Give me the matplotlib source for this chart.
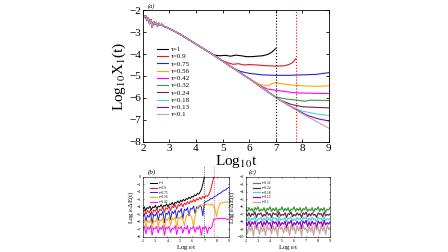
import numpy as np
import matplotlib
matplotlib.use("Agg")
import matplotlib.pyplot as plt

plt.rcParams['font.family'] = ['Liberation Serif', 'DejaVu Serif']
plt.rcParams['mathtext.fontset'] = 'stix'

# ---------------- data: panel (a) ----------------
tau_labels = ["τ=1", "τ=0.9", "τ=0.75", "τ=0.56", "τ=0.42",
              "τ=0.32", "τ=0.24", "τ=0.18", "τ=0.13", "τ=0.1"]
colors = ["#000000", "#e8141c", "#2323e6", "#ffa500", "#ff00ff",
          "#3a9a3a", "#7a1f4f", "#40e0d0", "#9400d3", "#c8a2a0"]

common_x = [2.00, 2.05, 2.10, 2.15, 2.20, 2.25, 2.30, 2.35, 2.40, 2.45, 2.50,
            2.55, 2.60, 2.65, 2.70, 2.80, 2.90, 3.00, 3.20, 3.40, 3.60, 3.80,
            4.00, 4.20, 4.40, 4.60]
common_y = [-2.20, -2.32, -2.25, -2.48, -2.35, -2.62, -2.45, -2.78, -2.52, -2.64,
            -2.56, -2.73, -2.60, -2.70, -2.64, -2.75, -2.79, -2.85, -2.97, -3.10,
            -3.25, -3.40, -3.55, -3.70, -3.85, -4.00]

tail_x = [
    [4.7, 4.9, 5.1, 5.3, 5.5, 5.7, 5.9, 6.1, 6.3, 6.5, 6.7, 6.85, 7.0],
    [4.8, 5.0, 5.2, 5.4, 5.6, 5.8, 6.0, 6.3, 6.6, 7.0, 7.3, 7.5, 7.65, 7.75],
    [5.0, 5.4, 5.7, 6.0, 6.5, 7.0, 7.5, 8.0, 8.5, 9.0],
    [5.0, 5.5, 6.0, 6.4, 6.7, 6.85, 7.0, 7.2, 7.5, 8.0, 8.5, 9.0],
    [5.0, 5.5, 6.0, 6.3, 6.7, 7.0, 7.3, 7.75, 8.2, 9.0],
    [5.0, 5.5, 6.0, 6.5, 6.8, 7.0, 7.4, 7.8, 8.1, 8.3, 9.0],
    [5.0, 5.5, 6.0, 6.5, 7.0, 7.2, 7.6, 8.0, 8.5, 9.0],
    [5.0, 5.5, 6.0, 6.5, 7.0, 7.5, 8.0, 8.5, 9.0],
    [5.0, 5.5, 6.0, 6.5, 7.0, 7.5, 7.8, 8.2, 8.6, 9.0],
    [5.0, 5.5, 6.0, 6.5, 7.0, 7.5, 8.0, 8.5, 9.0],
]
tail_y = [
    [-4.05, -4.08, -4.06, -4.10, -4.05, -4.08, -4.12, -4.12, -4.10, -4.08, -4.02, -3.92, -3.75],
    [-4.15, -4.30, -4.40, -4.47, -4.44, -4.50, -4.48, -4.50, -4.53, -4.55, -4.54, -4.48, -4.38, -4.22],
    [-4.32, -4.65, -4.80, -4.88, -4.95, -4.97, -4.97, -4.95, -4.93, -4.85],
    [-4.32, -4.72, -5.12, -5.38, -5.45, -5.35, -5.30, -5.35, -5.40, -5.45, -5.47, -5.45],
    [-4.32, -4.72, -5.12, -5.38, -5.60, -5.65, -5.70, -5.77, -5.78, -5.80],
    [-4.32, -4.72, -5.12, -5.55, -5.80, -5.95, -6.05, -6.10, -6.15, -6.10, -6.12],
    [-4.32, -4.72, -5.12, -5.55, -5.97, -6.12, -6.30, -6.40, -6.43, -6.45],
    [-4.32, -4.72, -5.12, -5.55, -5.97, -6.35, -6.60, -6.72, -6.80],
    [-4.32, -4.72, -5.12, -5.55, -5.97, -6.35, -6.55, -6.80, -6.95, -7.05],
    [-4.32, -4.72, -5.12, -5.55, -5.97, -6.35, -6.72, -7.05, -7.38],
]

# ---------------- data: panel (b) ----------------
b_labels = tau_labels[:5]
b_colors = colors[:5]
b_xend = [7.0, 7.75, 9.0, 9.0, 9.0]
b_black = [-4.3, -4.0, -4.5, -4.1, -4.2, -3.9, -4.4, -4.0, -4.1, -3.8, -4.3, -3.9, -4.0, -3.7,
           -4.1, -3.8, -3.9, -3.6, -4.0, -3.6, -3.7, -3.4, -3.8, -3.4, -3.5, -3.2, -3.5, -3.1,
           -3.3, -3.0, -3.2, -2.9, -3.0, -2.7, -2.9, -2.6, -2.7, -2.4, -2.5, -2.2, -2.3, -2.0,
           -1.6, -0.9, 0.0]
b_red = [-4.7, -4.4, -5.0, -4.5, -4.8, -4.3, -5.1, -4.4, -4.6, -4.2, -4.8, -4.3, -4.5, -4.0,
         -4.7, -4.1, -4.3, -3.9, -4.5, -3.9, -4.1, -3.7, -4.3, -3.7, -3.9, -3.5, -4.0, -3.5,
         -3.7, -3.3, -3.6, -3.2, -3.4, -3.0, -3.3, -2.9, -3.1, -2.7, -3.0, -2.6, -2.8, -2.5,
         -2.6, -2.3, -1.8, -1.0, -0.1]
b_blue = [-5.3, -4.9, -5.9, -5.1, -5.4, -4.8, -6.2, -5.0, -5.2, -4.7, -5.8, -4.9, -5.1, -4.6,
          -6.1, -4.8, -5.0, -4.5, -5.7, -4.6, -4.9, -4.4, -5.5, -4.5, -4.7, -4.2, -5.6, -4.3,
          -4.5, -4.1, -5.2, -4.2, -4.3, -3.9, -4.9, -4.0, -4.2, -3.8, -4.0, -5.2, -3.4, -3.3,
          -3.2, -3.1, -2.9, -2.9, -2.7, -2.6, -2.5, -2.3, -2.2, -2.1, -1.9, -1.8, -1.7, -1.5,
          -1.4]
b_orange = [-6.0, -5.7, -6.8, -5.8, -6.1, -5.6, -7.1, -5.8, -6.0, -5.5, -6.7, -5.7, -5.9, -5.5,
            -7.0, -5.6, -5.8, -5.4, -6.5, -5.5, -5.7, -5.3, -6.9, -5.4, -5.6, -5.2, -5.8, -6.5,
            -5.4, -5.0, -4.9, -5.1, -5.6, -6.6, -5.2, -4.4, -3.9, -3.8, -3.7, -3.8, -3.6, -3.7,
            -3.6, -3.7, -3.8, -3.6, -3.9, -4.4, -5.3, -4.2, -3.6, -3.5, -3.4, -3.4, -3.3, -3.4,
            -3.3]
b_magenta = [-6.9, -6.6, -7.6, -6.7, -7.0, -6.5, -7.8, -6.8, -6.9, -6.6, -7.5, -6.7, -7.0, -6.5,
             -7.8, -6.7, -6.9, -6.6, -7.4, -6.8, -7.0, -6.5, -7.7, -6.7, -6.9, -6.6, -7.5, -6.7,
             -7.0, -6.5, -7.6, -6.8, -6.9, -6.6, -7.4, -6.7, -7.0, -6.5, -7.8, -6.7, -6.9, -6.6,
             -7.5, -6.7, -6.9, -6.6, -5.7, -5.6, -5.6, -5.5, -5.6, -5.5, -5.6, -5.5, -5.6, -5.7,
             -5.6]

# ---------------- data: panel (c) ----------------
c_labels = tau_labels[5:]
c_colors = colors[5:]
c_green = [-6.3, -6.6, -6.1, -6.5, -6.2, -6.7, -6.1, -6.4, -6.0, -6.6, -6.3, -6.5, -6.1, -6.7,
           -6.2, -6.4, -6.0, -6.6, -6.2, -6.5, -6.1, -6.8, -6.3, -6.4, -6.0, -6.6, -6.2, -6.5,
           -6.1, -6.7, -6.3, -6.4, -6.0, -6.6, -6.2, -6.5, -6.1, -6.7, -6.2, -6.4, -6.0, -6.6,
           -6.3, -6.5, -6.1, -6.7, -6.2, -6.4, -6.0, -6.6, -6.2, -6.5, -6.1, -6.7, -6.3, -6.4,
           -6.1]
c_maroon = [-6.9, -7.2, -6.8, -7.3, -6.9, -7.1, -6.7, -7.4, -6.9, -7.0, -6.8, -7.3, -7.0, -7.2,
            -6.7, -7.1, -6.9, -7.4, -6.8, -7.0, -6.9, -7.3, -6.7, -7.2, -7.0, -7.1, -6.8, -7.4,
            -6.9, -7.0, -6.7, -7.3, -7.0, -7.2, -6.8, -7.1, -6.9, -7.4, -6.8, -7.0, -6.7, -7.3,
            -6.9, -7.2, -6.8, -7.1, -7.0, -7.4, -6.8, -7.0, -6.9, -7.3, -6.7, -7.2, -7.0, -7.1,
            -6.9]
c_cyan = [-7.5, -7.8, -7.4, -7.9, -7.5, -7.7, -7.3, -8.0, -7.6, -7.6, -7.4, -7.9, -7.5, -7.8,
          -7.3, -7.7, -7.5, -8.0, -7.4, -7.6, -7.5, -7.9, -7.3, -7.8, -7.6, -7.7, -7.4, -8.0,
          -7.5, -7.6, -7.3, -7.9, -7.6, -7.8, -7.4, -7.7, -7.5, -8.0, -7.4, -7.6, -7.3, -7.9,
          -7.5, -7.8, -7.4, -7.7, -7.6, -8.0, -7.4, -7.6, -7.5, -7.9, -7.3, -7.8, -7.6, -7.7,
          -7.5]
c_purple = [-8.1, -8.5, -7.9, -8.6, -8.0, -8.3, -7.9, -8.8, -8.1, -8.2, -7.9, -8.6, -8.0, -8.4,
            -7.8, -8.3, -8.1, -8.9, -7.9, -8.2, -8.0, -8.6, -7.9, -8.5, -8.1, -8.3, -7.9, -8.8,
            -8.0, -8.2, -7.8, -8.6, -8.1, -8.4, -7.9, -8.3, -8.0, -8.9, -7.9, -8.2, -7.8, -8.6,
            -8.0, -8.5, -7.9, -8.3, -8.1, -8.8, -7.9, -8.2, -8.0, -8.6, -7.8, -8.4, -8.1, -8.3,
            -8.0]
c_tan = [-8.7, -9.6, -8.5, -9.2, -8.6, -9.9, -8.4, -9.0, -8.7, -9.7, -8.5, -9.3, -8.6, -9.8,
         -8.4, -9.1, -8.8, -9.6, -8.5, -9.2, -8.6, -9.9, -8.4, -9.0, -8.7, -9.5, -8.5, -9.3,
         -8.6, -9.8, -8.4, -9.1, -8.7, -9.6, -8.5, -9.2, -8.6, -9.9, -8.4, -9.0, -8.8, -9.5,
         -8.5, -9.3, -8.6, -9.8, -8.4, -9.1, -8.7, -9.6, -8.5, -9.2, -8.6, -9.7, -8.4, -9.0,
         -8.7]

# ---------------- figure ----------------
fig = plt.figure(figsize=(4.48, 2.52), dpi=100)

def style_ax(ax, size, width=0.6, length=2.0):
    ax.tick_params(direction='in', top=True, right=True, labelsize=size,
                   width=width, length=length, pad=1.5)
    for s in ax.spines.values():
        s.set_linewidth(width)

# panel (a)
axa = fig.add_axes([0.319, 0.437, 0.415, 0.523])
for i in range(10):
    xs = common_x + tail_x[i]
    ys = common_y + tail_y[i]
    axa.plot(xs, ys, color=colors[i], lw=0.8, label=tau_labels[i])
axa.axvline(7.0, color='black', ls=':', lw=0.8)
axa.axvline(7.75, color='red', ls=':', lw=0.8)
axa.set_xlim(2, 9)
axa.set_ylim(-8, -2)
axa.set_xticks(range(2, 10))
axa.set_yticks(range(-8, -1))
style_ax(axa, 8)
axa.set_xlabel('Log$_{10}$t', fontsize=11, labelpad=0)
axa.set_ylabel('Log$_{10}$X$_1$(t)', fontsize=11, labelpad=1)
axa.legend(loc='upper left', bbox_to_anchor=(0.07, 0.73), frameon=False,
           fontsize=5, handlelength=1.6, labelspacing=0.2, borderpad=0.1,
           handletextpad=0.5, borderaxespad=0.0)
fig.text(0.33, 0.975, '(a)', fontsize=4.5, style='italic', va='center')

# panel (b)
axb = fig.add_axes([0.319, 0.060, 0.192, 0.238])
b_series = [b_black, b_red, b_blue, b_orange, b_magenta]
for i, ys in enumerate(b_series):
    xs = np.linspace(2, b_xend[i], len(ys))
    axb.plot(xs, ys, color=b_colors[i], lw=0.7, label=b_labels[i])
axb.axvline(7.0, ymax=1.18, color='black', ls=':', lw=0.5, clip_on=False)
axb.axvline(7.75, ymax=1.18, color='red', ls=':', lw=0.5, clip_on=False)
axb.set_xlim(2, 9)
axb.set_ylim(-8, 0)
axb.set_xticks(range(2, 10))
axb.set_yticks(range(-8, 1))
style_ax(axb, 3, width=0.4, length=1.0)
axb.set_xlabel('Log$_{10}$t', fontsize=5, labelpad=0)
axb.set_ylabel('Log$_{10}$ΔE(t)', fontsize=5, labelpad=0)
axb.legend(loc='upper left', bbox_to_anchor=(0.05, 0.97), frameon=False,
           fontsize=2.5, handlelength=2.2, labelspacing=0.2, borderpad=0.2,
           handletextpad=0.6)
fig.text(0.33, 0.318, '(b)', fontsize=5, style='italic', va='center')

# panel (c)
axc = fig.add_axes([0.549, 0.060, 0.188, 0.238])
c_series = [c_green, c_maroon, c_cyan, c_purple, c_tan]
for i, ys in enumerate(c_series):
    xs = np.linspace(2, 9, len(ys))
    axc.plot(xs, ys, color=c_colors[i], lw=0.9, label=c_labels[i])
axc.set_xlim(2, 9)
axc.set_ylim(-10, -2)
axc.set_xticks(range(2, 10))
axc.set_yticks(range(-10, -1))
style_ax(axc, 3, width=0.4, length=1.0)
axc.set_xlabel('Log$_{10}$t', fontsize=5, labelpad=0)
axc.set_ylabel('Log$_{10}$ΔE(t)', fontsize=5, labelpad=0)
axc.legend(loc='upper left', bbox_to_anchor=(0.05, 0.97), frameon=False,
           fontsize=2.5, handlelength=2.2, labelspacing=0.2, borderpad=0.2,
           handletextpad=0.6)
fig.text(0.555, 0.318, '(c)', fontsize=5, style='italic', va='center')

fig.savefig('out.png', dpi=100)
